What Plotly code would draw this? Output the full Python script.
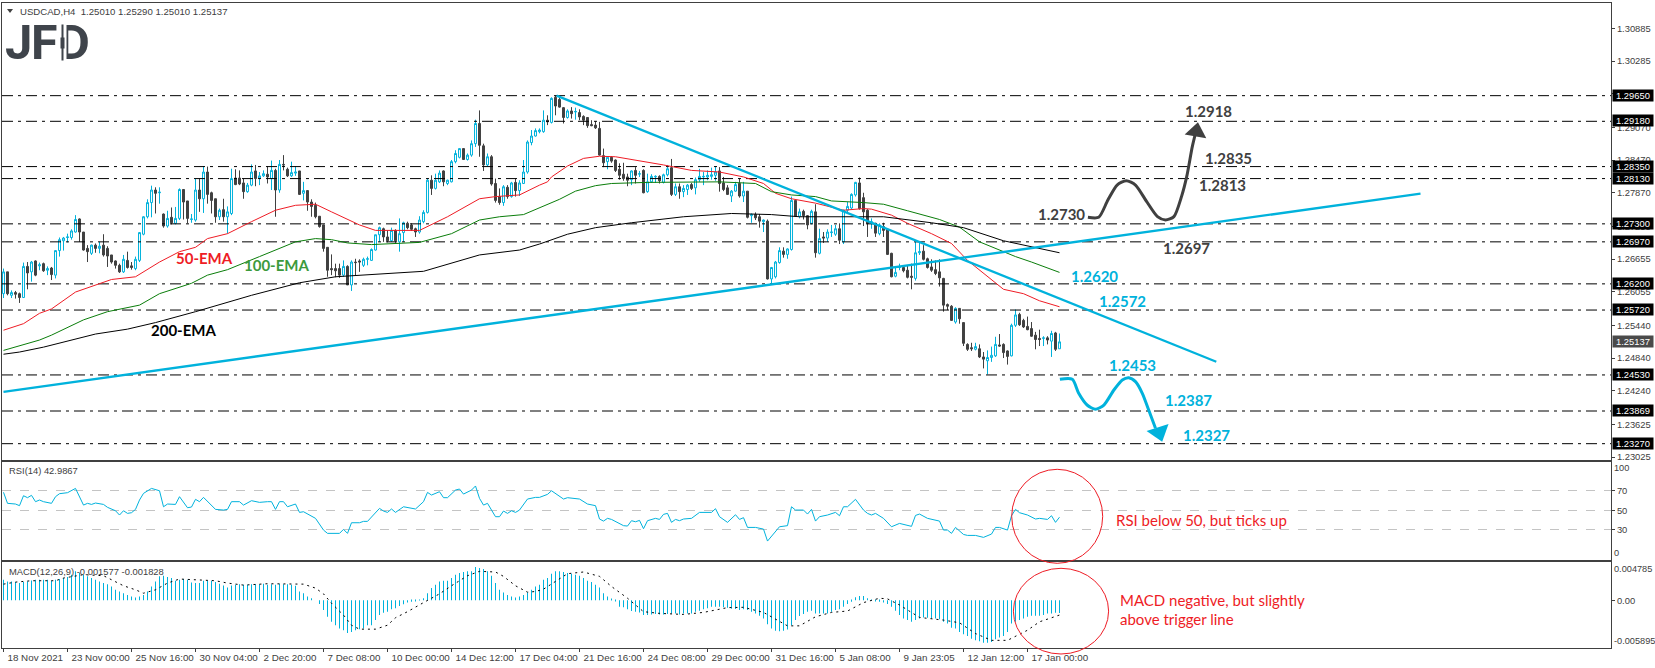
import plotly.graph_objects as go

### Prices, in 1/10000 (12642 = 1.2642)
opens = [
    12602,12642,12599,12604,12602,12595,12652,12642,12662,12653,
    12657,12645,12649,12636,12681,12699,12705,12705,12715,12739,
    12715,12685,12676,12691,12685,12691,12685,12673,12662,12654,
    12642,12663,12653,12648,12663,12711,12743,12769,12792,12787,
    12748,12726,12742,12731,12740,12793,12772,12738,12737,12792,
    12776,12825,12787,12776,12743,12756,12743,12749,12814,12814,
    12805,12789,12801,12827,12814,12818,12821,12813,12828,12792,
    12839,12830,12818,12823,12827,12786,12791,12770,12764,12744,
    12728,12687,12648,12648,12648,12636,12652,12618,12660,12662,
    12654,12665,12663,12682,12710,12721,12706,12699,12718,12697,
    12714,12731,12728,12721,12715,12734,12751,12810,12795,12807,
    12827,12804,12807,12844,12852,12868,12848,12856,12877,12914,
    12873,12838,12853,12804,12780,12769,12797,12780,12806,12791,
    12804,12825,12879,12891,12899,12899,12920,12916,12962,12958,
    12943,12925,12937,12935,12934,12927,12925,12912,12911,12905,
    12855,12844,12852,12847,12830,12821,12816,12811,12828,12821,
    12828,12789,12807,12816,12817,12806,12820,12833,12784,12798,
    12789,12793,12802,12796,12811,12816,12816,12817,12819,12827,
    12805,12796,12781,12790,12804,12781,12790,12745,12747,12743,
    12734,12735,12629,12633,12659,12680,12674,12683,12773,12744,
    12753,12745,12731,12752,12676,12706,12704,12714,12711,12721,
    12697,12755,12759,12783,12805,12778,12755,12731,12731,12712,
    12725,12720,12676,12634,12650,12650,12645,12634,12630,12677,
    12680,12666,12651,12646,12642,12630,12582,12579,12550,12575,
    12549,12509,12503,12500,12501,12486,12479,12485,12488,12508,
    12509,12497,12488,12544,12564,12553,12542,12538,12526,12520,
    12520,12521,12515,12530,12501,
]
highs = [
    12648,12642,12608,12607,12604,12659,12660,12662,12663,12659,
    12659,12652,12651,12681,12705,12706,12712,12720,12746,12740,
    12715,12691,12692,12694,12697,12711,12689,12673,12663,12657,
    12673,12679,12660,12670,12715,12744,12775,12800,12797,12797,
    12749,12754,12760,12761,12795,12793,12772,12748,12813,12813,
    12836,12835,12789,12776,12758,12776,12762,12831,12830,12828,
    12813,12805,12839,12838,12825,12828,12836,12846,12831,12847,
    12856,12833,12844,12836,12827,12807,12792,12775,12769,12744,
    12728,12687,12674,12657,12657,12663,12654,12663,12666,12665,
    12668,12670,12685,12710,12725,12723,12718,12723,12720,12740,
    12734,12734,12731,12723,12744,12755,12813,12819,12822,12828,
    12828,12811,12847,12865,12868,12868,12859,12883,12921,12938,
    12877,12859,12856,12813,12795,12801,12801,12807,12813,12810,
    12847,12883,12902,12905,12905,12938,12929,12962,12965,12964,
    12944,12940,12944,12943,12940,12929,12925,12920,12918,12917,
    12868,12853,12854,12848,12841,12842,12822,12828,12834,12827,
    12830,12822,12821,12819,12819,12822,12838,12849,12804,12804,
    12801,12803,12805,12815,12831,12825,12828,12833,12836,12834,
    12816,12801,12792,12807,12813,12807,12790,12749,12751,12748,
    12738,12738,12651,12662,12687,12687,12685,12780,12773,12758,
    12756,12746,12756,12766,12721,12715,12720,12728,12728,12731,
    12756,12770,12786,12807,12815,12787,12757,12740,12732,12731,
    12732,12721,12677,12651,12657,12654,12653,12657,12697,12697,
    12691,12668,12665,12663,12665,12631,12584,12581,12577,12575,
    12549,12511,12512,12512,12509,12495,12498,12505,12523,12528,
    12511,12498,12547,12573,12567,12556,12560,12550,12532,12536,
    12524,12524,12534,12532,12529,
]
lows = [
    12594,12599,12594,12593,12585,12594,12610,12624,12634,12645,
    12642,12636,12627,12630,12670,12681,12696,12701,12714,12697,
    12681,12660,12673,12677,12676,12670,12651,12657,12648,12640,
    12640,12648,12646,12645,12660,12709,12740,12742,12749,12767,
    12723,12723,12729,12729,12737,12738,12731,12732,12734,12752,
    12750,12767,12749,12732,12737,12734,12712,12746,12801,12801,
    12776,12787,12799,12799,12801,12816,12804,12792,12743,12787,
    12828,12816,12816,12818,12783,12773,12754,12743,12740,12723,
    12679,12633,12636,12632,12631,12633,12618,12607,12636,12642,
    12651,12654,12662,12681,12697,12697,12696,12697,12695,12679,
    12697,12720,12717,12706,12712,12731,12749,12783,12793,12805,
    12799,12801,12806,12841,12850,12847,12846,12853,12871,12853,
    12827,12836,12800,12769,12765,12763,12776,12778,12780,12781,
    12803,12822,12874,12890,12896,12897,12911,12914,12929,12943,
    12914,12923,12923,12921,12920,12911,12906,12909,12904,12855,
    12834,12830,12842,12825,12811,12809,12799,12801,12804,12816,
    12786,12787,12805,12805,12804,12804,12817,12781,12781,12776,
    12779,12783,12792,12784,12807,12801,12810,12811,12809,12789,
    12790,12783,12770,12789,12778,12770,12740,12732,12737,12723,
    12715,12628,12621,12630,12657,12668,12666,12681,12743,12740,
    12738,12720,12729,12668,12674,12695,12697,12706,12708,12693,
    12693,12749,12757,12780,12756,12726,12706,12721,12706,12709,
    12706,12673,12632,12632,12645,12641,12630,12610,12626,12673,
    12663,12648,12642,12636,12615,12569,12572,12552,12547,12547,
    12506,12497,12497,12498,12484,12465,12454,12477,12486,12505,
    12484,12472,12487,12541,12543,12539,12535,12523,12500,12506,
    12506,12509,12486,12497,12501,
]
closes = [
    12642,12602,12604,12601,12595,12652,12640,12660,12636,12655,
    12644,12648,12637,12681,12701,12704,12706,12717,12738,12715,
    12682,12679,12691,12685,12689,12673,12671,12660,12654,12642,
    12665,12650,12650,12665,12714,12743,12769,12792,12786,12788,
    12726,12740,12732,12740,12793,12770,12740,12739,12792,12776,
    12825,12784,12773,12743,12755,12743,12752,12813,12802,12803,
    12789,12801,12825,12813,12818,12822,12816,12828,12792,12839,
    12838,12818,12824,12825,12784,12791,12770,12762,12743,12725,
    12685,12645,12646,12644,12636,12652,12618,12660,12659,12660,
    12665,12666,12683,12710,12723,12706,12699,12718,12699,12712,
    12732,12723,12720,12715,12737,12751,12810,12795,12810,12823,
    12807,12810,12844,12859,12868,12848,12856,12877,12914,12874,
    12838,12853,12803,12773,12769,12798,12780,12805,12791,12805,
    12825,12880,12891,12901,12902,12920,12917,12960,12946,12944,
    12925,12937,12932,12936,12926,12920,12910,12910,12906,12856,
    12842,12852,12845,12828,12819,12813,12810,12827,12819,12822,
    12787,12807,12817,12817,12809,12820,12831,12784,12798,12789,
    12795,12801,12795,12811,12817,12817,12819,12820,12825,12804,
    12793,12784,12790,12802,12781,12790,12742,12747,12741,12735,
    12737,12629,12650,12660,12681,12674,12684,12773,12744,12752,
    12745,12728,12753,12677,12703,12704,12715,12715,12721,12700,
    12755,12762,12784,12806,12758,12752,12731,12734,12713,12728,
    12718,12674,12633,12641,12651,12644,12632,12632,12677,12679,
    12665,12650,12645,12639,12631,12581,12579,12553,12575,12556,
    12511,12500,12501,12505,12486,12482,12485,12489,12509,12506,
    12494,12487,12544,12563,12545,12541,12536,12524,12518,12518,
    12521,12517,12529,12500,12513.7,
]

### Moving averages: bar number, value
ema50_bars = [0,5,9,12,18,24,27,33,39,44,48,51,56,62,68,73,78,82,89,93,104,111,119,123,129,134,136,137,141,145,149,153,158,165,172,179,185,190,193,197,203,210,215,217,222,226,232,237,241,246,250,255,259,264]
ema50_vals = [12535,12547,12566,12574,12605,12621,12628,12633,12660,12679,12687,12703,12712,12734,12755,12764,12766,12752,12728,12718,12718,12743,12776,12780,12783,12801,12807,12816,12836,12850,12854,12853,12847,12838,12828,12825,12816,12804,12786,12776,12768,12755,12758,12757,12746,12731,12712,12694,12663,12633,12610,12602,12589,12578]
ema100_bars = [0,4,9,12,15,20,26,34,39,47,51,56,64,73,78,82,86,92,104,112,119,124,130,134,139,143,148,152,161,179,188,192,197,203,207,215,220,226,234,239,244,250,253,257,264]
ema100_vals = [12498,12507,12517,12526,12537,12554,12569,12581,12602,12621,12636,12646,12670,12697,12703,12701,12695,12692,12696,12712,12737,12743,12747,12759,12775,12790,12800,12804,12806,12807,12804,12789,12783,12780,12772,12769,12766,12754,12738,12724,12697,12679,12670,12660,12641]
ema200_bars = [0,4,10,18,23,31,38,48,62,74,83,105,119,129,134,141,148,157,170,182,192,199,206,220,232,240,250,264]
ema200_vals = [12491,12495,12504,12518,12528,12537,12549,12569,12599,12622,12633,12643,12673,12682,12693,12711,12723,12732,12743,12749,12747,12743,12743,12743,12732,12723,12699,12677]

### RSI(14)
rsi_bars = [0,1,3,4,5,6,7,8,9,10,12,13,14,16,18,20,21,22,23,25,26,28,29,30,31,32,33,34,35,37,39,40,41,43,44,46,47,48,49,50,53,55,56,57,59,60,62,64,66,67,68,69,70,71,73,74,75,78,80,81,84,85,86,87,89,90,91,94,95,96,97,98,100,103,105,106,107,109,110,111,113,114,115,117,118,119,120,121,123,124,125,126,127,128,129,131,133,134,136,137,140,141,144,146,148,149,150,151,152,155,156,157,158,159,160,161,163,164,165,166,167,168,169,170,172,174,177,178,179,181,183,184,185,186,188,190,191,192,194,196,197,198,200,201,202,203,204,206,208,209,210,211,213,215,216,217,218,220,222,224,227,228,229,231,234,235,236,237,238,240,241,243,245,247,248,249,251,252,253,254,256,258,259,261,262,263,264]
rsi_vals = [68.5,57.2,56.5,54.8,65.0,63.0,65.4,58.9,60.6,58.9,57.2,64.0,67.1,68.1,72.5,55.4,57.2,56.1,57.5,56.1,53.1,49.6,45.2,49.6,46.9,47.6,51.0,60.6,67.4,72.5,70.1,53.7,56.5,56.1,64.0,52.7,53.4,61.3,58.9,63.3,51.0,50.3,51.0,58.9,58.9,55.4,59.9,58.2,58.9,58.9,51.0,58.9,58.9,53.7,56.5,47.9,48.6,41.8,29.8,26.4,26.4,30.5,26.4,37.3,37.3,38.7,38.7,52.0,49.3,47.9,51.4,47.9,53.7,51.4,58.9,68.4,65.7,69.1,63.0,63.0,70.8,71.9,66.7,70.8,75.0,62.3,55.4,57.2,43.5,43.5,49.3,46.9,49.6,47.9,50.3,61.6,63.3,63.3,66.4,70.1,61.6,63.0,61.6,56.5,54.8,41.1,39.0,41.8,40.7,34.3,33.9,39.4,38.3,39.7,31.2,39.4,41.8,40.7,45.9,46.9,37.7,40.7,39.4,41.1,41.8,47.9,47.9,51.7,43.5,37.7,45.5,40.7,42.5,32.5,32.5,30.8,18.5,23.6,33.2,34.3,53.7,50.3,50.3,46.2,51.0,39.0,43.5,45.2,47.9,44.5,53.7,53.7,61.3,50.3,46.9,45.2,46.9,41.8,33.2,36.6,33.6,44.8,46.2,41.8,39.0,29.8,29.8,26.4,32.5,25.3,24.3,24.3,22.3,25.7,32.5,32.5,29.8,44.5,51.0,47.6,45.2,41.1,41.8,40.7,44.5,37.7,42.99]
rsi_levels = [70, 50, 30]

### MACD(12,26,9) in 1/10000
macd_hist = [
    25.4,23.3,23.3,22.4,21.2,22.4,23.3,24.5,25.4,25.4,25.4,25.4,24.1,25.4,26.2,27.4,28.7,31.6,35.7,33.7,
    31.6,29.5,27.4,25.4,23.3,21.2,19.9,17.0,12.9,10.8,8.7,6.6,4.6,3.3,4.6,6.6,10.8,17.0,23.3,29.5,
    30.3,28.7,27.4,24.1,25.4,26.2,25.4,22.0,21.2,21.2,24.1,24.1,24.1,22.4,20.4,18.3,15.8,18.3,19.1,19.9,
    19.1,19.1,19.9,19.9,19.9,20.4,19.1,19.9,19.1,20.4,19.9,19.9,19.1,17.9,10.8,8.7,4.6,2.5,0.0,-4.6,
    -12.1,-20.4,-26.6,-30.8,-34.9,-37.0,-40.3,-39.1,-37.0,-35.7,-34.9,-30.8,-30.8,-24.5,-18.3,-15.4,-14.1,-11.2,-10.0,-7.1,
    -5.0,-2.9,-1.7,-0.4,0.4,2.5,8.7,15.0,19.1,23.3,24.1,24.1,27.4,31.6,33.7,34.9,35.7,35.7,41.1,39.9,
    38.7,35.7,30.3,21.2,12.9,9.6,6.6,4.6,3.3,4.6,6.6,9.6,12.9,17.0,19.1,25.4,27.4,32.8,35.7,35.7,
    34.9,33.7,32.8,31.6,30.3,27.4,24.1,22.4,19.1,15.8,8.7,4.6,1.7,-0.4,-7.9,-8.7,-11.2,-13.3,-14.1,-15.0,
    -18.3,-18.3,-17.5,-17.0,-17.5,-17.5,-17.0,-16.2,-16.2,-17.5,-16.2,-16.2,-16.2,-14.1,-12.9,-11.2,-10.0,-7.9,-7.9,-7.9,
    -8.7,-9.1,-10.4,-10.8,-12.1,-11.2,-12.1,-14.1,-16.2,-19.1,-22.4,-29.5,-34.9,-37.8,-38.2,-37.8,-36.2,-30.8,-24.5,-19.5,
    -17.0,-14.1,-12.9,-16.2,-16.2,-16.2,-16.2,-14.1,-12.1,-11.2,-7.9,-4.6,-1.7,3.7,5.4,5.4,2.5,0.4,-0.4,-1.7,
    -2.9,-4.6,-7.9,-12.9,-18.3,-22.4,-24.5,-26.6,-24.5,-22.4,-21.2,-21.6,-22.4,-22.4,-23.3,-26.6,-28.7,-34.1,-34.9,-39.1,
    -42.0,-44.1,-47.4,-49.5,-50.7,-52.4,-52.4,-51.5,-48.2,-46.1,-44.1,-39.1,-28.7,-26.6,-24.5,-22.4,-20.4,-19.1,-19.1,-19.1,
    -18.3,-16.2,-16.2,-15.4,-15.77,
]
signal_bars = [0,3,7,13,15,18,20,25,28,30,33,35,38,41,44,48,53,56,60,66,75,78,80,82,85,87,89,93,96,98,101,105,109,112,116,119,123,125,128,131,133,135,138,141,145,149,152,156,160,164,170,175,181,185,190,192,196,199,203,207,211,215,219,221,224,229,235,239,243,247,251,256,259,264]
signal_vals = [19.9,22.4,24.1,24.1,27.4,30.3,31.6,30.3,23.3,17.9,12.9,8.7,12.9,21.2,26.2,25.4,24.1,21.2,18.7,20.4,19.9,15.0,7.9,-3.7,-18.3,-30.8,-35.7,-35.7,-30.8,-21.6,-14.1,-2.9,7.9,17.9,30.3,35.7,34.9,29.5,17.9,10.0,10.8,13.7,23.3,32.8,34.9,29.5,17.0,2.5,-14.1,-16.2,-17.5,-15.0,-9.1,-8.7,-15.0,-20.4,-31.6,-31.6,-20.4,-15.0,-13.3,-2.9,2.5,1.7,-5.8,-21.2,-24.5,-27.8,-41.1,-49.5,-49.5,-37.0,-26.6,-18.28]

### Levels, trend lines and the two scenario paths
level_prices = [1.2965, 1.2918, 1.2835, 1.2813, 1.2730, 1.2697, 1.2620, 1.2572, 1.2453, 1.23869, 1.2327]
level_labels = ["1.29650", "1.29180", "1.28350", "1.28130", "1.27300", "1.26970", "1.26200", "1.25720", "1.24530", "1.23869", "1.23270"]
last_price = 1.25137
up_trend_bars = [0, 354.25]
up_trend_prices = [1.24221, 1.27853]
down_trend_bars = [138.25, 303.2]
down_trend_prices = [1.2965, 1.24773]
bull_bars = [271.1, 273.8, 276.1, 278.4, 280.7, 283, 285.8, 288.5, 290.5, 292.6, 294.5, 295.8, 297.2, 298.1]
bull_prices = [1.2742, 1.2742, 1.27737, 1.28012, 1.28092, 1.28012, 1.27707, 1.27432, 1.27371, 1.27432, 1.27799, 1.28165, 1.28715, 1.2899]
bear_bars = [264.1, 267.2, 268.8, 270.9, 273, 275.1, 277.6, 279.7, 281.3, 283, 284.7, 286.3, 288]
bear_prices = [1.24451, 1.24451, 1.24194, 1.23979, 1.23901, 1.23979, 1.24254, 1.24438, 1.2448, 1.24407, 1.24194, 1.23888, 1.23552]

### Axis text
date_ticks = [0, 16, 32, 48, 64, 80, 96, 112, 128, 144, 160, 176, 192, 208, 224, 240, 256]
date_labels = ["18 Nov 2021", "23 Nov 00:00", "25 Nov 16:00", "30 Nov 04:00", "2 Dec 20:00", "7 Dec 08:00",
               "10 Dec 00:00", "14 Dec 12:00", "17 Dec 04:00", "21 Dec 16:00", "24 Dec 08:00", "29 Dec 00:00",
               "31 Dec 16:00", "5 Jan 08:00", "9 Jan 23:05", "12 Jan 12:00", "17 Jan 00:00"]
price_ticks = [1.30885, 1.30285, 1.29685, 1.2907, 1.2847, 1.2787, 1.27255, 1.26655, 1.26055, 1.2544, 1.2484, 1.2424, 1.23625, 1.23025]

### Page geometry, in pixels of the 1655x668 window
W, H = 1655, 668
L, R, T, B = 2, 44, 2, 20
PRICE_RANGE = [1.2298, 1.31358]
BLUE = "#00b2dc"
DARK = "#404040"
RED = "#ee1c25"
LOGO = "#3f444b"
TICK_FAMILY = "Liberation Sans"
TICK_SIZE = 9.4
TICK_FONT = dict(family=TICK_FAMILY, size=TICK_SIZE, color=DARK)
NOTE = "Lato"

def px(x):
    return (x - L) / (W - L - R)

def py(y):
    return 1 - (y - T) / (H - T - B)

bars = list(range(len(closes)))
x_range = [-0.375, 401.875]
scale = lambda vals, k: [v * k for v in vals]

fig = go.Figure()

# dash-dot support and resistance levels
for level in level_prices:
    _ = fig.add_trace(go.Scatter(x=x_range, y=[level, level], mode="lines",
                                 line=dict(color="black", width=1, dash="11px,5px,3px,5px")))

_ = fig.add_trace(go.Candlestick(
    x=bars, open=scale(opens, 1e-4), high=scale(highs, 1e-4), low=scale(lows, 1e-4), close=scale(closes, 1e-4),
    whiskerwidth=0,
    increasing=dict(line=dict(color=BLUE, width=1), fillcolor="white"),
    decreasing=dict(line=dict(color=DARK, width=1), fillcolor=DARK),
))

for xs, ys, color in [(ema50_bars, ema50_vals, "#ee1c25"), (ema100_bars, ema100_vals, "#0a7d0a"), (ema200_bars, ema200_vals, "black")]:
    _ = fig.add_trace(go.Scatter(x=xs, y=scale(ys, 1e-4), mode="lines", line=dict(color=color, width=1)))

for xs, ys in [(up_trend_bars, up_trend_prices), (down_trend_bars, down_trend_prices)]:
    _ = fig.add_trace(go.Scatter(x=xs, y=ys, mode="lines", line=dict(color=BLUE, width=2.3)))

# scenario paths with their arrow heads
_ = fig.add_trace(go.Scatter(x=bull_bars, y=bull_prices, mode="lines", line=dict(color=DARK, width=3, shape="spline", smoothing=0.7)))
_ = fig.add_trace(go.Scatter(x=[298.2], y=[1.2899], mode="markers", marker=dict(symbol="triangle-up", size=19, color=DARK, angle=10)))
_ = fig.add_trace(go.Scatter(x=bear_bars, y=bear_prices, mode="lines", line=dict(color=BLUE, width=3, shape="spline", smoothing=0.7)))
_ = fig.add_trace(go.Scatter(x=[288.9], y=[1.23479], mode="markers", marker=dict(symbol="triangle-up", size=20, color=BLUE, angle=162)))

_ = fig.add_trace(go.Scatter(x=rsi_bars, y=rsi_vals, mode="lines", line=dict(color=BLUE, width=1), xaxis="x2", yaxis="y2"))

_ = fig.add_trace(go.Bar(x=bars, y=scale(macd_hist, 1e-4), width=0.25, marker=dict(color=BLUE, line=dict(width=0)), xaxis="x3", yaxis="y3"))
_ = fig.add_trace(go.Scatter(x=signal_bars, y=scale(signal_vals, 1e-4), mode="lines",
                             line=dict(color="black", width=1, dash="2px,4px"), xaxis="x3", yaxis="y3"))

annotations = []

def note(text, x, y, color=DARK, size=15, bold=False, family=NOTE, anchor="center", **kw):
    shown = f"<b>{text}</b>" if bold else text
    annotations.append(dict(text=shown, x=px(x), y=py(y), xref="paper", yref="paper", showarrow=False,
                            xanchor=anchor, yanchor="middle", font=dict(family=family, size=size, color=color), **kw))

def tag(text, price, bgcolor):
    y = 2.5 + (1 - (price - PRICE_RANGE[0]) / (PRICE_RANGE[1] - PRICE_RANGE[0])) * 457
    note(text, 1611.5, y - 0.5, color="white", size=TICK_SIZE, family=TICK_FAMILY, anchor="left",
         bgcolor=bgcolor, width=40, height=10.5, borderpad=0, align="center")

# price tags on the right axis
for level, label in zip(level_prices, level_labels):
    tag(label, level, "black")
tag(f"{last_price:.5f}", last_price, "#4a4a4a")

# headers
note("USDCAD,H4&nbsp;&nbsp;1.25010 1.25290 1.25010 1.25137", 18, 11, size=TICK_SIZE + 0.2, family=TICK_FAMILY, anchor="left")
note("RSI(14) 42.9867", 7, 471, size=TICK_SIZE, family=TICK_FAMILY, anchor="left")
note("MACD(12,26,9) -0.001577 -0.001828", 7, 571, size=TICK_SIZE, family=TICK_FAMILY, anchor="left")

# logo: the stem of the D is replaced by a small candle
note("J", 18.5, 42, color=LOGO, size=49, bold=True, family="Roboto")
note("F", 44, 42, color=LOGO, size=49, bold=True, family="Roboto")
note("D", 74, 42, color=LOGO, size=49, bold=True, family="Roboto")
note("&nbsp;", 61, 42, bgcolor="white", width=9, height=38, borderpad=0, size=4)
note("&nbsp;", 62.5, 42.5, bgcolor=LOGO, width=1, height=35, borderpad=0, size=4)
note("&nbsp;", 62.5, 43, bgcolor=LOGO, width=3, height=10, borderpad=0, size=4)

# fixed inset labels of the lower panels
for text, y in [("100", 468), ("0", 553), ("0.004785", 569), ("-0.005895", 641)]:
    note(text, 1612, y, size=TICK_SIZE - 0.2, family=TICK_FAMILY, anchor="left")

# EMA names and level call-outs
note("50-EMA", 204, 258, color=RED, bold=True)
note("100-EMA", 276, 265, color="#3c9a3c", bold=True)
note("200-EMA", 183, 330, color="black", bold=True)
for text, x, y in [("1.2918", 1208, 111), ("1.2835", 1228, 158), ("1.2813", 1222, 185), ("1.2730", 1061, 214), ("1.2697", 1186, 248)]:
    note(text, x, y, bold=True)
for text, x, y in [("1.2620", 1094, 276), ("1.2572", 1122, 301), ("1.2453", 1132, 365), ("1.2387", 1188, 400), ("1.2327", 1206, 435)]:
    note(text, x, y, color=BLUE, bold=True)
note("RSI below 50, but ticks up", 1114, 520, color=RED, anchor="left")
note("MACD negative, but slightly", 1118, 600, color=RED, anchor="left")
note("above trigger line", 1118, 619, color=RED, anchor="left")

shapes = [
    dict(type="circle", xref="paper", yref="paper", x0=px(1011.7), x1=px(1102.7), y0=py(563.3), y1=py(469.3), line=dict(color=RED, width=1)),
    dict(type="circle", xref="paper", yref="paper", x0=px(1013.4), x1=px(1108.6), y0=py(654), y1=py(568.3), line=dict(color=RED, width=1)),
    dict(type="path", xref="paper", yref="paper", line=dict(width=0), fillcolor=DARK,
         path=f"M {px(7)} {py(9)} L {px(13)} {py(9)} L {px(10)} {py(13)} Z"),
]

panel_line = dict(showline=True, mirror=True, linecolor=DARK, linewidth=1, zeroline=False, showgrid=False, automargin=False)
x_common = dict(range=x_range, type="linear", showticklabels=False, ticks="", **panel_line)
y_common = dict(side="right", ticks="outside", ticklen=3, tickcolor=DARK, tickfont=TICK_FONT, **panel_line)
y_rsi = dict(y_common, showgrid=True, gridcolor="#c4c4c4", griddash="dash", gridwidth=1)

fig.update_layout(
    width=W, height=H,
    margin=dict(l=L, r=R, t=T, b=B, pad=0),
    paper_bgcolor="white", plot_bgcolor="white",
    showlegend=False, hovermode=False,
    annotations=annotations, shapes=shapes,
    xaxis=dict(x_common, anchor="y", rangeslider=dict(visible=False)),
    xaxis2=dict(x_common, anchor="y2"),
    xaxis3=dict(x_common, anchor="y3", tickvals=date_ticks, ticktext=date_labels, showticklabels=True, tickangle=0,
                ticks="outside", ticklen=3, tickcolor=DARK, tickfont=dict(TICK_FONT, size=9.8),
                ticklabelposition="outside right", ticklabelshift=3),
    yaxis=dict(y_common, anchor="x", domain=[py(459.5), py(2.5)], range=PRICE_RANGE,
               tickvals=price_ticks, ticktext=[f"{p:.5f}" for p in price_ticks]),
    yaxis2=dict(y_rsi, anchor="x2", domain=[py(559.5), py(461.5)], range=[-0.4, 100.1],
                tickvals=rsi_levels, ticktext=[str(v) for v in rsi_levels]),
    yaxis3=dict(y_common, anchor="x3", domain=[0, py(561.5)], range=[-0.005895, 0.004785],
                tickvals=[0], ticktext=["0.00"]),
)

fig.write_html("out.html", config=dict(displayModeBar=False),
               post_script="document.body.style.margin='0';document.body.style.overflow='hidden';")
